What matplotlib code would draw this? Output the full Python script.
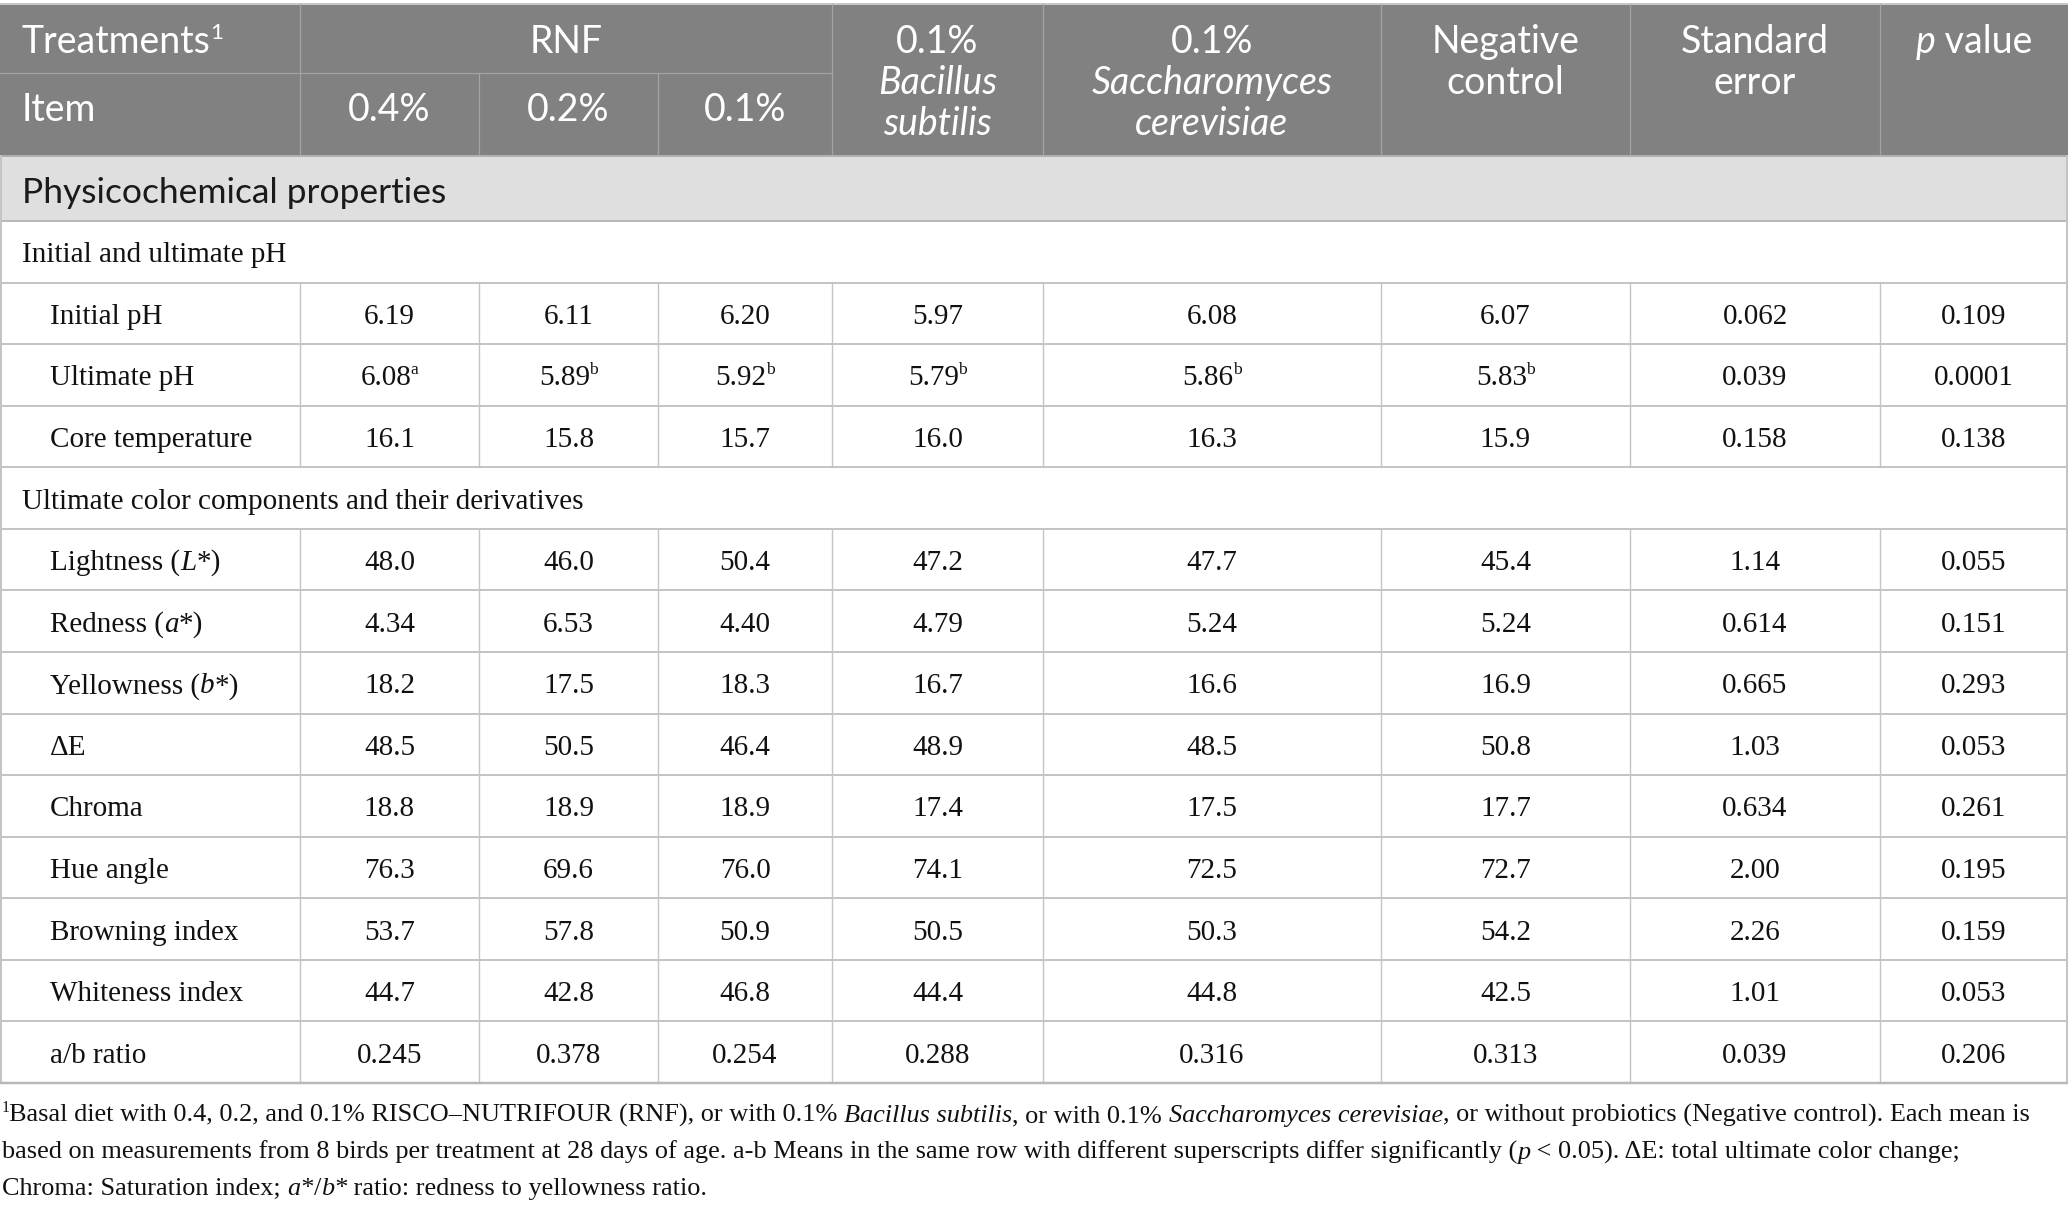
import matplotlib.pyplot as plt
from matplotlib.patches import Rectangle

# --- table content ---
col_heads = ["0.4%", "0.2%", "0.1%"]
sections = ["Initial and ultimate pH", "Ultimate color components and their derivatives"]
items = [
    [("Initial pH", "")],
    [("Ultimate pH", "")],
    [("Core temperature", "")],
    [("Lightness (", ""), ("L", "i"), ("*)", "")],
    [("Redness (", ""), ("a", "i"), ("*)", "")],
    [("Yellowness (", ""), ("b", "i"), ("*)", "")],
    [("ΔE", "")],
    [("Chroma", "")],
    [("Hue angle", "")],
    [("Browning index", "")],
    [("Whiteness index", "")],
    [("a/b ratio", "")],
]
rnf_04 = ["6.19", "6.08", "16.1", "48.0", "4.34", "18.2", "48.5", "18.8", "76.3", "53.7", "44.7", "0.245"]
rnf_02 = ["6.11", "5.89", "15.8", "46.0", "6.53", "17.5", "50.5", "18.9", "69.6", "57.8", "42.8", "0.378"]
rnf_01 = ["6.20", "5.92", "15.7", "50.4", "4.40", "18.3", "46.4", "18.9", "76.0", "50.9", "46.8", "0.254"]
bacillus = ["5.97", "5.79", "16.0", "47.2", "4.79", "16.7", "48.9", "17.4", "74.1", "50.5", "44.4", "0.288"]
saccharo = ["6.08", "5.86", "16.3", "47.7", "5.24", "16.6", "48.5", "17.5", "72.5", "50.3", "44.8", "0.316"]
neg_ctrl = ["6.07", "5.83", "15.9", "45.4", "5.24", "16.9", "50.8", "17.7", "72.7", "54.2", "42.5", "0.313"]
std_err = ["0.062", "0.039", "0.158", "1.14", "0.614", "0.665", "1.03", "0.634", "2.00", "2.26", "1.01", "0.039"]
p_value = ["0.109", "0.0001", "0.138", "0.055", "0.151", "0.293", "0.053", "0.261", "0.195", "0.159", "0.053", "0.206"]
ult_ph_sup = ["a", "b", "b", "b", "b", "b"]   # superscripts on the Ultimate pH row

footnote = [
    [("1", "s"), ("Basal diet with 0.4, 0.2, and 0.1% RISCO\u2013NUTRIFOUR (RNF), or with 0.1% ", ""),
     ("Bacillus subtilis", "i"), (", or with 0.1% ", ""), ("Saccharomyces cerevisiae", "i"),
     (", or without probiotics (Negative control). Each mean is", "")],
    [("based on measurements from 8 birds per treatment at 28 days of age. a-b Means in the same row with different superscripts differ significantly (", ""),
     ("p", "i"), (" < 0.05). \u0394E: total ultimate color change;", "")],
    [("Chroma: Saturation index; ", ""), ("a*", "i"), ("/", ""), ("b*", "i"), (" ratio: redness to yellowness ratio.", "")],
]

W, H = 2068, 1213
PX = 72 / 100  # points per pixel
SANS = "Lato"
SERIF = "Liberation Serif"

fig = plt.figure(figsize=(W / 100, H / 100), dpi=100)
ax = fig.add_axes([0, 0, 1, 1])
ax.set_xlim(0, W)
ax.set_ylim(H, 0)
ax.axis("off")
renderer = fig.canvas.get_renderer()


def text_width(s, size, family, style):
    t1 = ax.text(0, 0, "|" + s + "|", fontsize=size, family=family, style=style)
    t2 = ax.text(0, 0, "||", fontsize=size, family=family, style=style)
    w = t1.get_window_extent(renderer).width - t2.get_window_extent(renderer).width
    t1.remove()
    t2.remove()
    return w


def draw_runs(x, y, parts, size, family, color="black", ha="left"):
    placed = []
    cur = 0.0
    for txt, st in parts:
        fs = size * 0.6 if st == "s" else size
        dy = -size / PX * 0.38 if st == "s" else 0
        style = "italic" if st == "i" else "normal"
        if st == "s":
            cur -= size / PX * 0.03
        t = ax.text(0, y + dy, txt, fontsize=fs, family=family, style=style,
                    color=color, ha="left", va="baseline")
        placed.append((t, cur))
        cur += text_width(txt, fs, family, style)
    start = x - cur / 2 if ha == "center" else x
    for t, off in placed:
        t.set_x(start + off)


xs = [0, 300, 479, 658, 832, 1043, 1381, 1630, 1880, W]
centers = [(a + b) / 2 for a, b in zip(xs[:-1], xs[1:])]
head_top, head_mid, head_bot = 4, 73, 156
sec_bot = 221
body_bot = 1083

hdr_bg = "#808180"
hdr_line = "#a4a4a4"
sec_bg = "#e0dfe0"
grid = "#c4c4c4"
lw = 2 * PX

# header block
ax.add_patch(Rectangle((0, head_top), W, head_bot - head_top, color=hdr_bg, lw=0))
ax.plot([0, W], [head_top, head_top], color="#c8c8c8", lw=lw)
ax.plot([0, xs[4]], [head_mid, head_mid], color=hdr_line, lw=1.2 * PX)
for i, x in enumerate(xs[1:-1], start=1):
    y0 = head_mid if i in (2, 3) else head_top
    ax.plot([x, x], [y0, head_bot], color=hdr_line, lw=1.2 * PX)

hfs = 27
draw_runs(22, 53, [("Treatments", ""), ("1", "s")], hfs, SANS, "white")
draw_runs(22, 121, [("Item", "")], hfs, SANS, "white")
draw_runs((xs[1] + xs[4]) / 2, 53, [("RNF", "")], hfs, SANS, "white", ha="center")
for c, lab in zip(centers[1:4], col_heads):
    draw_runs(c, 121, [(lab, "")], hfs, SANS, "white", ha="center")
multi = [
    [("0.1%", ""), ("Bacillus", "i"), ("subtilis", "i")],
    [("0.1%", ""), ("Saccharomyces", "i"), ("cerevisiae", "i")],
    [("Negative", ""), ("control", "")],
    [("Standard", ""), ("error", "")],
]
for c, lines in zip(centers[4:8], multi):
    for k, (txt, st) in enumerate(lines):
        draw_runs(c, 53 + 41 * k, [(txt, st)], hfs, SANS, "white", ha="center")
draw_runs(centers[8], 53, [("p", "i"), (" value", "")], hfs, SANS, "white", ha="center")

# section band
ax.add_patch(Rectangle((0, head_bot), W, sec_bot - head_bot, color=sec_bg, lw=0))
draw_runs(22, 203, [("Physicochemical properties", "")], 25.5, SANS, "#1a1a1a")

# body rows
layout = [("sub", 0), ("data", 0), ("data", 1), ("data", 2), ("sub", 1)] + [("data", i) for i in range(3, 12)]
rh = (body_bot - sec_bot) / len(layout)
cols = [rnf_04, rnf_02, rnf_01, bacillus, saccharo, neg_ctrl, std_err, p_value]
bfs = 21
for r, (kind, idx) in enumerate(layout):
    top = sec_bot + r * rh
    base = top + rh / 2 + 10.5
    if kind == "sub":
        draw_runs(22, base, [(sections[idx], "")], bfs, SERIF, "#111111")
        continue
    for x in xs[1:-1]:
        ax.plot([x, x], [top, top + rh], color=grid, lw=1.4 * PX)
    draw_runs(50, base, items[idx], bfs, SERIF, "#111111")
    for j, col in enumerate(cols):
        parts = [(col[idx], "")]
        if idx == 1 and j < len(ult_ph_sup):
            parts.append((ult_ph_sup[j], "s"))
        draw_runs(centers[j + 1], base, parts, bfs, SERIF, "#111111", ha="center")

for r in range(len(layout) + 1):
    y = sec_bot + r * rh
    ax.plot([0, W], [y, y], color=grid if r else "#b8b8b8", lw=lw)
ax.plot([0, W], [head_bot, head_bot], color="#b0b0b0", lw=lw)
ax.plot([1, 1], [head_bot, body_bot], color=grid, lw=lw)
ax.plot([W - 1, W - 1], [head_bot, body_bot], color=grid, lw=lw)
ax.plot([0, W], [body_bot, body_bot], color="#b8b8b8", lw=2.5 * PX)

# footnote
for k, line in enumerate(footnote):
    draw_runs(2, 1122 + 36.5 * k, line, 18.9, SERIF, "#111111")

fig.savefig("out.png", dpi=100)
